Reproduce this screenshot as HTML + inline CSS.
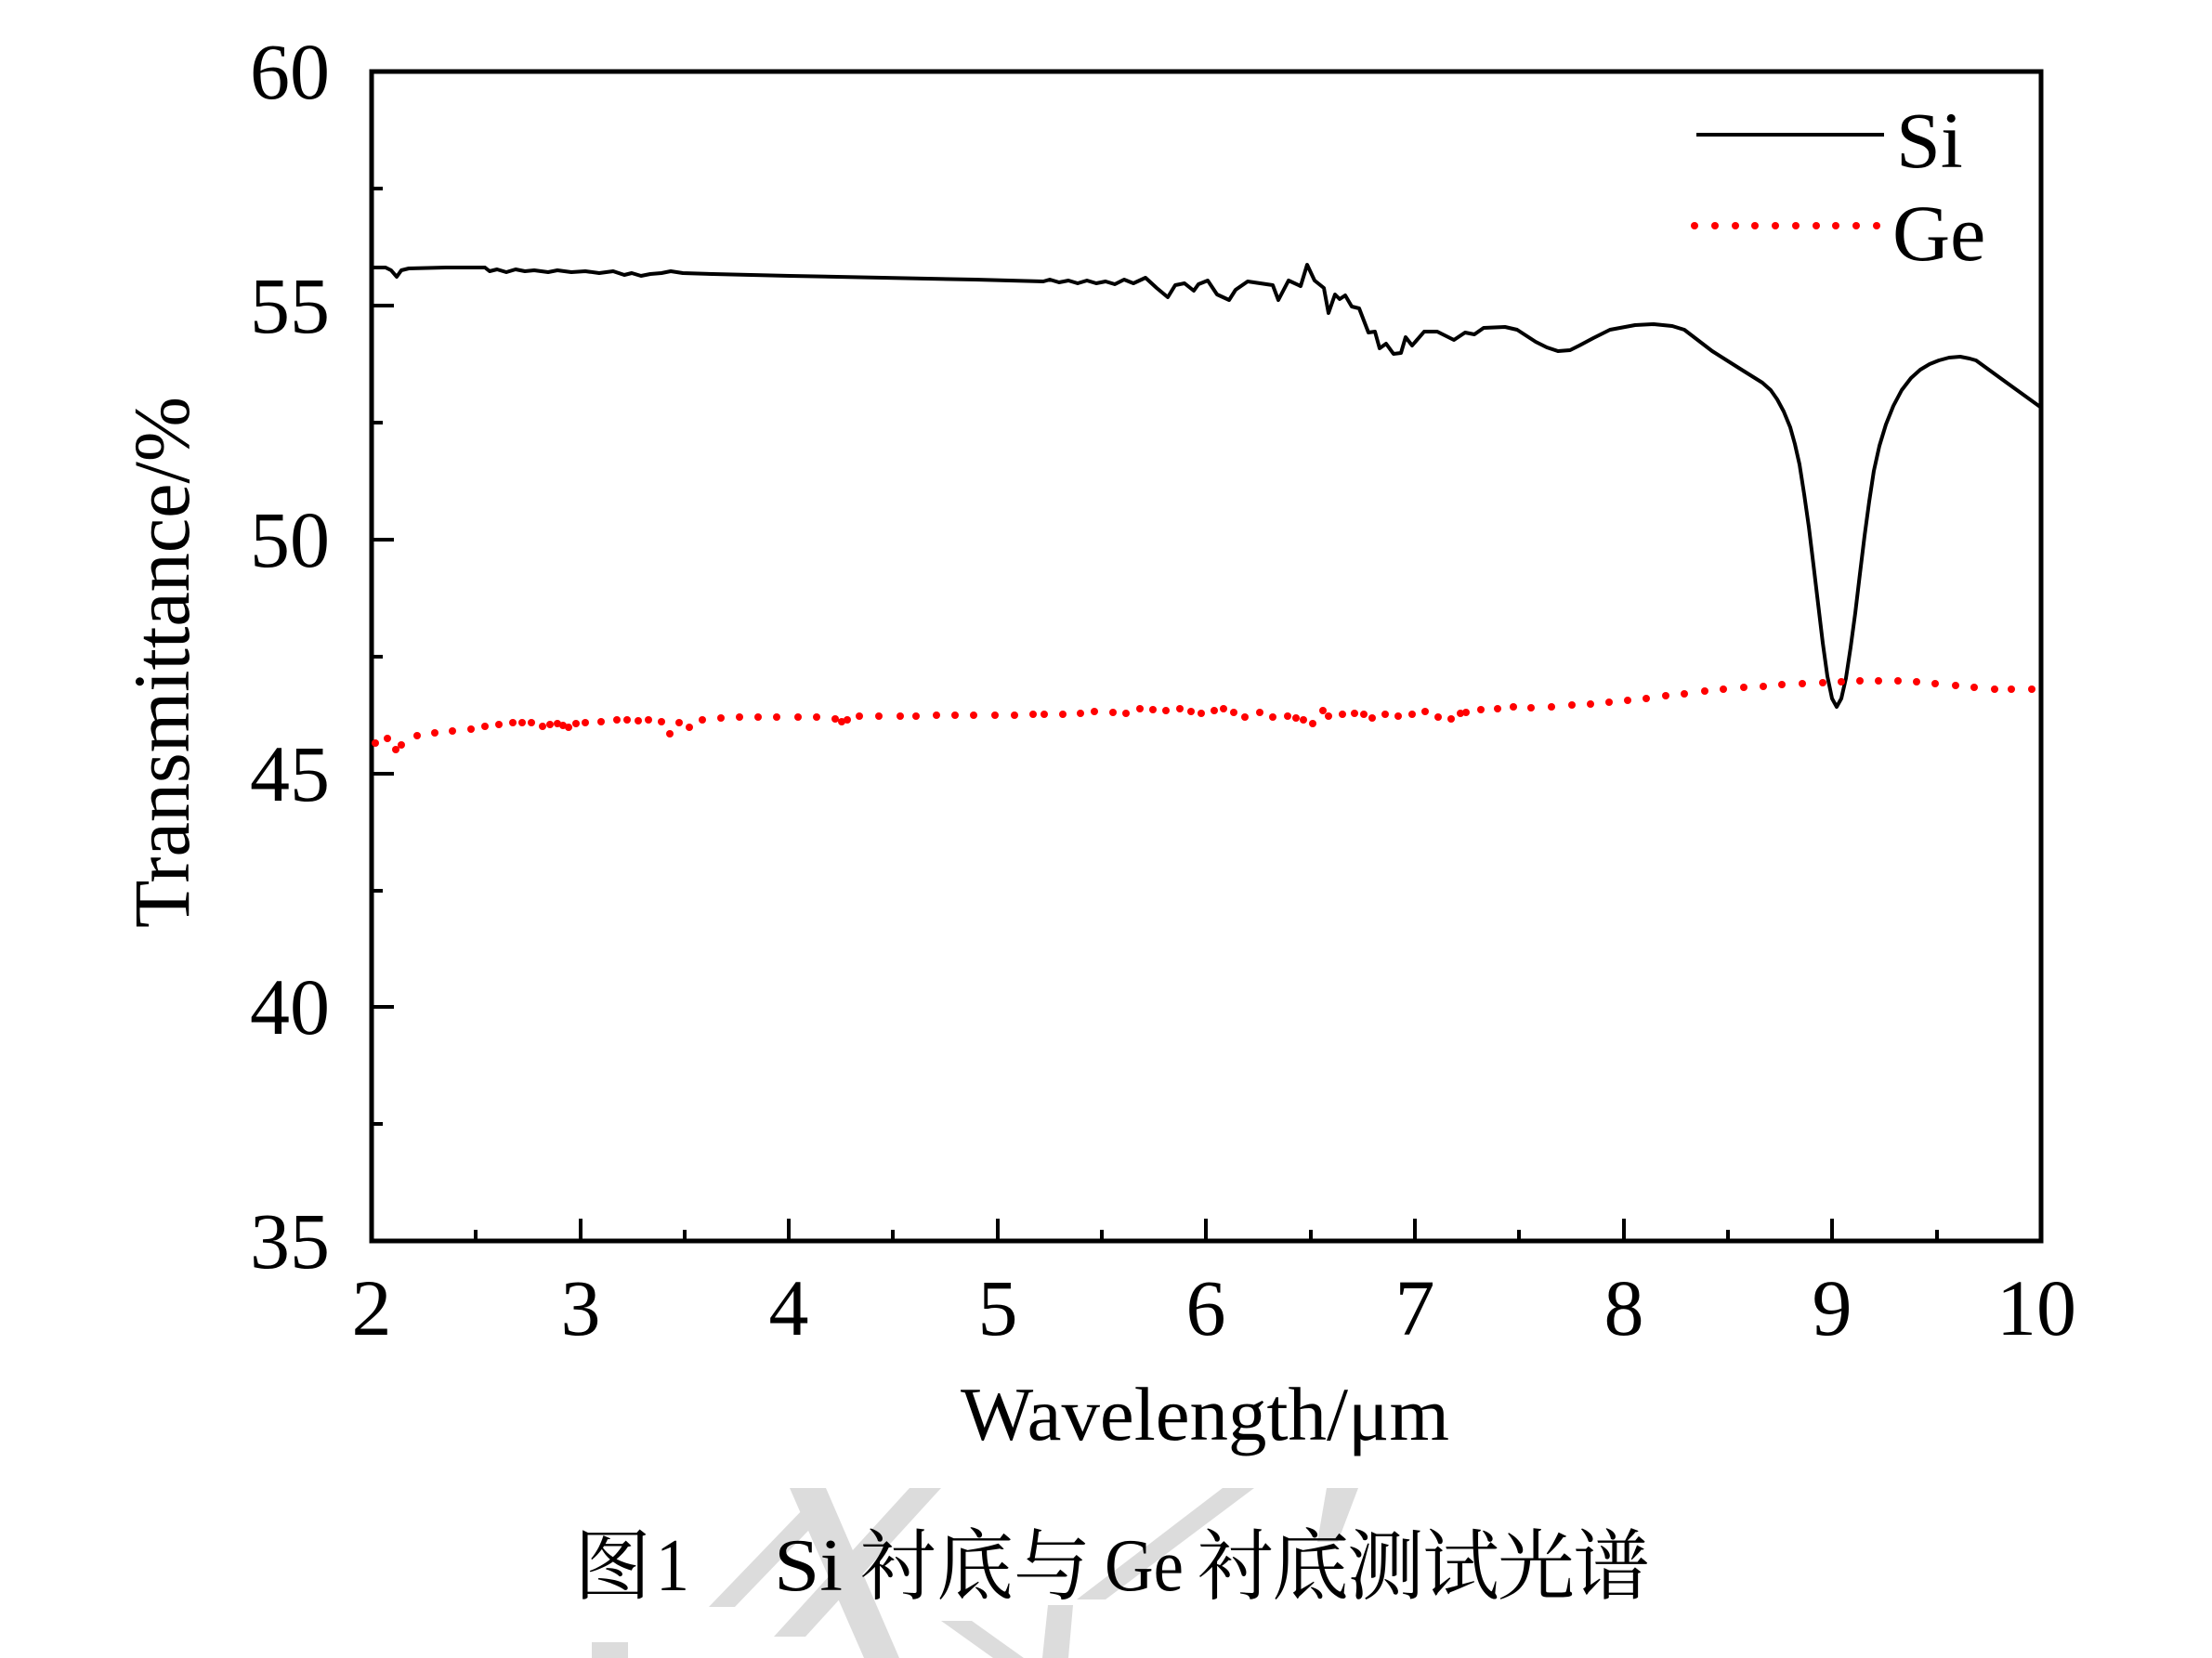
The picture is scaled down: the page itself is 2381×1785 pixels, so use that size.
<!DOCTYPE html>
<html>
<head>
<meta charset="utf-8">
<style>
html,body{margin:0;padding:0;background:#fff;}
svg{display:block;}
</style>
</head>
<body>
<svg xmlns="http://www.w3.org/2000/svg" width="2381" height="1785" viewBox="0 0 2381 1785">
<rect x="0" y="0" width="2381" height="1785" fill="#fff"/>

<!-- watermark -->
<g fill="#dcdcdc">
<polygon points="850,1602 889,1602 968,1785 930,1785"/>
<polygon points="979,1602 1013,1602 867,1762 833,1762"/>
<polygon points="867,1622 895,1622 791,1730 763,1730"/>
<polygon points="637,1768 676,1768 676,1785 637,1785"/>
<polygon points="1013,1745 1046,1745 1102,1785 1069,1785"/>
<polygon points="1128,1728 1155,1728 1150,1785 1122,1785"/>
<polygon points="1316,1602 1350,1602 1190,1722 1159,1722"/>
<polygon points="1428,1602 1462,1602 1440,1660 1418,1660"/>
</g>

<!-- axes frame -->
<rect x="400" y="77" width="1797" height="1259" fill="none" stroke="#000" stroke-width="5"/>

<!-- y ticks -->
<g stroke="#000" stroke-width="4">
<line x1="400" y1="77" x2="424" y2="77"/>
<line x1="400" y1="203" x2="412" y2="203"/>
<line x1="400" y1="329" x2="424" y2="329"/>
<line x1="400" y1="455" x2="412" y2="455"/>
<line x1="400" y1="581" x2="424" y2="581"/>
<line x1="400" y1="707" x2="412" y2="707"/>
<line x1="400" y1="833" x2="424" y2="833"/>
<line x1="400" y1="959" x2="412" y2="959"/>
<line x1="400" y1="1084" x2="424" y2="1084"/>
<line x1="400" y1="1210" x2="412" y2="1210"/>
</g>
<!-- x ticks -->
<g stroke="#000" stroke-width="4">
<line x1="512" y1="1336" x2="512" y2="1324"/>
<line x1="625" y1="1336" x2="625" y2="1312"/>
<line x1="737" y1="1336" x2="737" y2="1324"/>
<line x1="849" y1="1336" x2="849" y2="1312"/>
<line x1="961" y1="1336" x2="961" y2="1324"/>
<line x1="1074" y1="1336" x2="1074" y2="1312"/>
<line x1="1186" y1="1336" x2="1186" y2="1324"/>
<line x1="1298" y1="1336" x2="1298" y2="1312"/>
<line x1="1411" y1="1336" x2="1411" y2="1324"/>
<line x1="1523" y1="1336" x2="1523" y2="1312"/>
<line x1="1635" y1="1336" x2="1635" y2="1324"/>
<line x1="1748" y1="1336" x2="1748" y2="1312"/>
<line x1="1860" y1="1336" x2="1860" y2="1324"/>
<line x1="1972" y1="1336" x2="1972" y2="1312"/>
<line x1="2085" y1="1336" x2="2085" y2="1324"/>
</g>

<!-- y tick labels -->
<g font-family="'Liberation Serif', serif" font-size="86" fill="#000" text-anchor="end">
<text x="355" y="106">60</text>
<text x="355" y="358">55</text>
<text x="355" y="610">50</text>
<text x="355" y="862">45</text>
<text x="355" y="1113">40</text>
<text x="355" y="1365">35</text>
</g>
<!-- x tick labels -->
<g font-family="'Liberation Serif', serif" font-size="86" fill="#000" text-anchor="middle">
<text x="400" y="1437">2</text>
<text x="625" y="1437">3</text>
<text x="849" y="1437">4</text>
<text x="1074" y="1437">5</text>
<text x="1298" y="1437">6</text>
<text x="1523" y="1437">7</text>
<text x="1748" y="1437">8</text>
<text x="1972" y="1437">9</text>
<text x="2192" y="1437">10</text>
</g>

<!-- axis titles -->
<text x="1034" y="1550" font-family="'Liberation Serif', serif" font-size="82" fill="#000" textLength="526" lengthAdjust="spacingAndGlyphs">Wavelength/μm</text>
<text transform="translate(203,713) rotate(-90)" x="-286" y="0" font-family="'Liberation Serif', serif" font-size="86" fill="#000" textLength="572" lengthAdjust="spacingAndGlyphs">Transmittance/%</text>

<!-- Si curve -->
<polyline fill="none" stroke="#000" stroke-width="4" stroke-linejoin="round" stroke-linecap="round" points="
402,288 415,288 421,291 427,298 432,291 440,289 480,288 522,288 527,292 535,290 545,293 555,290 565,292 575,291 590,293 600,291 615,293 630,292 645,294 660,292 672,296 680,294 690,297 700,295 712,294 722,292 735,294 767,295 850,297 950,299 1050,301 1123,303 1130,301 1140,304 1150,302 1160,305 1170,302 1180,305 1190,303 1200,306 1210,301 1220,305 1233,299 1245,310 1257,320 1265,307 1275,305 1285,313 1290,306 1300,302
1310,317 1323,323 1330,312 1343,303 1370,307 1376,323 1387,302 1400,308 1407,285 1415,302 1425,310 1430,337 1437,317 1442,322 1448,318 1455,330 1463,332 1473,358 1480,357 1485,375 1492,370 1500,381 1508,380 1513,363 1520,372 1533,357 1547,357 1565,366 1577,358 1587,360 1597,353 1620,352 1633,355 1653,368 1665,374 1677,378 1690,377 1700,372 1715,364 1733,355 1760,350 1780,349 1800,351 1813,355 1843,378 1873,397 1897,412 1906,420 1913,430 1920,443 1927,460 1932,478 1937,500 1942,532 1947,567 1952,608 1957,650 1962,692 1967,728 1972,752 1977,761 1982,752 1987,730 1992,697 1997,660 2002,618 2007,577 2012,540 2017,507 2023,480 2030,457 2038,437 2047,420 2057,407 2067,398 2077,392 2087,388 2098,385 2110,384 2120,386 2127,388 2160,412 2196,438"/>

<!-- Ge dotted curve -->
<g fill="#ff0000">
<circle cx="404" cy="800" r="4"/><circle cx="417" cy="795" r="4"/><circle cx="426" cy="807" r="4"/><circle cx="432" cy="802" r="4"/><circle cx="449" cy="792" r="4"/><circle cx="468" cy="789" r="4"/><circle cx="487" cy="787" r="4"/><circle cx="507" cy="785" r="4"/><circle cx="522" cy="782" r="4"/><circle cx="537" cy="780" r="4"/><circle cx="552" cy="778" r="4"/><circle cx="562" cy="778" r="4"/><circle cx="572" cy="778" r="4"/><circle cx="584" cy="782" r="4"/><circle cx="592" cy="780" r="4"/><circle cx="600" cy="779" r="4"/><circle cx="606" cy="781" r="4"/><circle cx="612" cy="783" r="4"/><circle cx="620" cy="779" r="4"/><circle cx="630" cy="778" r="4"/><circle cx="647" cy="777" r="4"/><circle cx="664" cy="775" r="4"/><circle cx="675" cy="775" r="4"/><circle cx="687" cy="776" r="4"/><circle cx="698" cy="775" r="4"/><circle cx="712" cy="777" r="4"/><circle cx="721" cy="790" r="4"/><circle cx="731" cy="778" r="4"/><circle cx="742" cy="783" r="4"/><circle cx="756" cy="775" r="4"/><circle cx="776" cy="773" r="4"/><circle cx="796" cy="772" r="4"/><circle cx="816" cy="772" r="4"/><circle cx="836" cy="772" r="4"/><circle cx="859" cy="772" r="4"/><circle cx="879" cy="772" r="4"/><circle cx="899" cy="774" r="4"/><circle cx="906" cy="777" r="4"/><circle cx="912" cy="775" r="4"/><circle cx="925" cy="771" r="4"/><circle cx="946" cy="771" r="4"/><circle cx="969" cy="771" r="4"/><circle cx="986" cy="771" r="4"/><circle cx="1008" cy="770" r="4"/><circle cx="1028" cy="770" r="4"/><circle cx="1048" cy="770" r="4"/><circle cx="1071" cy="770" r="4"/><circle cx="1092" cy="770" r="4"/><circle cx="1112" cy="769" r="4"/><circle cx="1124" cy="769" r="4"/><circle cx="1144" cy="769" r="4"/><circle cx="1163" cy="768" r="4"/><circle cx="1178" cy="766" r="4"/><circle cx="1198" cy="767" r="4"/><circle cx="1212" cy="768" r="4"/><circle cx="1227" cy="763" r="4"/><circle cx="1241" cy="764" r="4"/><circle cx="1255" cy="765" r="4"/><circle cx="1270" cy="763" r="4"/><circle cx="1282" cy="766" r="4"/>
<circle cx="1293" cy="768" r="4"/><circle cx="1307" cy="765" r="4"/><circle cx="1317" cy="763" r="4"/><circle cx="1328" cy="767" r="4"/><circle cx="1340" cy="772" r="4"/><circle cx="1356" cy="767" r="4"/><circle cx="1370" cy="772" r="4"/><circle cx="1386" cy="771" r="4"/><circle cx="1395" cy="773" r="4"/><circle cx="1403" cy="775" r="4"/><circle cx="1413" cy="779" r="4"/><circle cx="1424" cy="765" r="4"/><circle cx="1430" cy="771" r="4"/><circle cx="1445" cy="769" r="4"/><circle cx="1458" cy="768" r="4"/><circle cx="1468" cy="769" r="4"/><circle cx="1477" cy="773" r="4"/><circle cx="1491" cy="769" r="4"/><circle cx="1505" cy="771" r="4"/><circle cx="1520" cy="769" r="4"/><circle cx="1534" cy="766" r="4"/><circle cx="1548" cy="772" r="4"/><circle cx="1562" cy="774" r="4"/><circle cx="1572" cy="768" r="4"/><circle cx="1578" cy="767" r="4"/><circle cx="1594" cy="764" r="4"/><circle cx="1612" cy="763" r="4"/><circle cx="1629" cy="761" r="4"/><circle cx="1648" cy="762" r="4"/><circle cx="1670" cy="761" r="4"/><circle cx="1692" cy="759" r="4"/>
<circle cx="1712" cy="758" r="4"/><circle cx="1732" cy="756" r="4"/><circle cx="1752" cy="754" r="4"/><circle cx="1772" cy="752" r="4"/><circle cx="1793" cy="749" r="4"/><circle cx="1813" cy="747" r="4"/><circle cx="1835" cy="744" r="4"/><circle cx="1855" cy="742" r="4"/><circle cx="1877" cy="740" r="4"/><circle cx="1898" cy="739" r="4"/><circle cx="1918" cy="737" r="4"/><circle cx="1940" cy="736" r="4"/><circle cx="1962" cy="735" r="4"/><circle cx="1982" cy="734" r="4"/><circle cx="2002" cy="733" r="4"/><circle cx="2022" cy="733" r="4"/><circle cx="2043" cy="733" r="4"/><circle cx="2063" cy="734" r="4"/><circle cx="2083" cy="736" r="4"/><circle cx="2105" cy="738" r="4"/><circle cx="2125" cy="740" r="4"/><circle cx="2147" cy="742" r="4"/><circle cx="2165" cy="742" r="4"/><circle cx="2187" cy="742" r="4"/>
</g>

<!-- legend -->
<line x1="1826" y1="145" x2="2028" y2="145" stroke="#000" stroke-width="4"/>
<text x="2041" y="180" font-family="'Liberation Serif', serif" font-size="86" fill="#000">Si</text>
<g fill="#ff0000">
<circle cx="1824" cy="243" r="4"/><circle cx="1846" cy="243" r="4"/><circle cx="1868" cy="243" r="4"/><circle cx="1889" cy="243" r="4"/><circle cx="1911" cy="243" r="4"/><circle cx="1933" cy="243" r="4"/><circle cx="1955" cy="243" r="4"/><circle cx="1976" cy="243" r="4"/><circle cx="1998" cy="243" r="4"/><circle cx="2020" cy="243" r="4"/>
</g>
<text x="2037" y="280" font-family="'Liberation Serif', serif" font-size="86" fill="#000">Ge</text>

<!-- caption -->
<g fill="#000">
<text x="618" y="1715" font-family="'Liberation Serif', 'Noto Serif CJK SC', serif" font-size="83">图</text>
<text x="706" y="1712" font-family="'Liberation Serif', serif" font-size="80" textLength="36" lengthAdjust="spacingAndGlyphs">1</text>
<text x="833" y="1712" font-family="'Liberation Serif', serif" font-size="80" textLength="74" lengthAdjust="spacingAndGlyphs">Si</text>
<text x="925" y="1715" font-family="'Liberation Serif', 'Noto Serif CJK SC', serif" font-size="83" textLength="249" lengthAdjust="spacing">衬底与</text>
<text x="1189" y="1712" font-family="'Liberation Serif', serif" font-size="80" textLength="85" lengthAdjust="spacingAndGlyphs">Ge</text>
<text x="1288" y="1715" font-family="'Liberation Serif', 'Noto Serif CJK SC', serif" font-size="83" textLength="488" lengthAdjust="spacing">衬底测试光谱</text>
</g>
</svg>
</body>
</html>
